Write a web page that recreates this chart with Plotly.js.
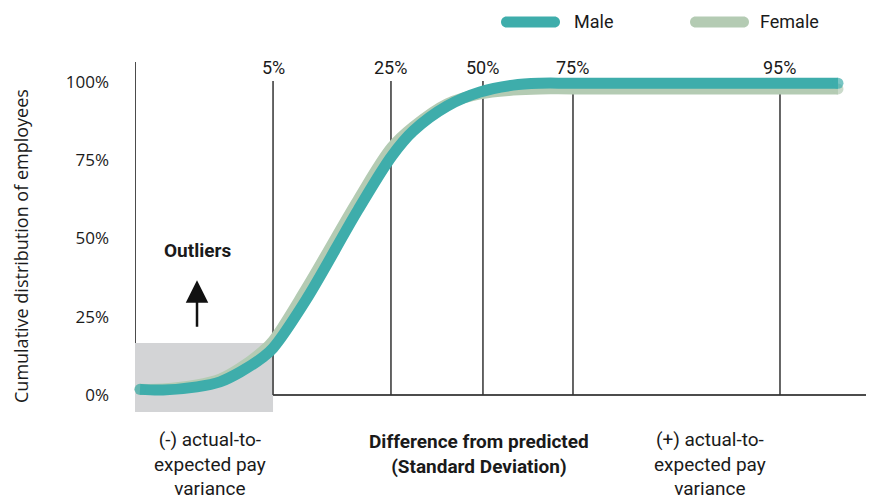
<!DOCTYPE html>
<html><head><meta charset="utf-8">
<script src="https://cdn.plot.ly/plotly-3.0.1.min.js"></script>
<style>html,body{margin:0;padding:0;background:#fff}</style>
</head><body><div id="chart" style="width:873px;height:499px"></div>
<script>
// Difference from predicted (standard deviations)
const xSD     = [-2.959, -2.770, -2.491, -2.302, -2.138, -1.949, -1.867, -1.596, -1.170, -0.891, -0.718, -0.439, -0.168, 0.103, 0.324, 0.595, 2.294, 2.770];
// Cumulative distribution of employees (%)
const maleY   = [1.8, 1.6, 2.6, 4.2, 7.3, 12.1, 15.0, 30.4, 59.1, 76.4, 84.3, 92.3, 96.8, 99.0, 99.6, 99.6, 99.6, 99.6];
const femaleY = [1.8, 1.9, 3.2, 5.1, 8.6, 14.1, 17.3, 33.9, 62.3, 79.2, 85.6, 93.0, 96.2, 97.4, 97.8, 97.8, 97.8, 97.8];
const seriesNames = ['Male', 'Female'];
const pctLabels = ['5%', '25%', '50%', '75%', '95%'];
const pctX = [-1.867, -0.899, -0.144, 0.595, 2.294];
const yTickVals = [0, 25, 50, 75, 100];
const yTickText = ['0%', '25%', '50%', '75%', '100%'];
const outlierX = [-3, -1.867];
const outlierY = [-5.43, 16.6];
const xRange = [-3, 3];
const yRange = [-5.43, 106.39];

const MALE_C = '#3eadab', FEMALE_C = '#b4cbb3';
const TXT = '#1a1a1a';
const FONT_A = 'Roboto, "Fira Sans", sans-serif';
const FONT_B = '"Open Sans", "Noto Sans", sans-serif';

function capSizes(n, s) { return Array.from({length: n}, (_, i) => (i === 0 || i === n - 1) ? s : 0); }

const traces = [
  {x: xSD, y: femaleY, name: seriesNames[1], mode: 'lines+markers', line: {color: FEMALE_C, width: 11, shape: 'spline', smoothing: 1},
   marker: {color: FEMALE_C, size: capSizes(xSD.length, 11), line: {width: 0}}, hoverinfo: 'skip', showlegend: false, cliponaxis: false},
  {x: xSD, y: maleY, name: seriesNames[0], mode: 'lines+markers', line: {color: MALE_C, width: 11, shape: 'spline', smoothing: 1},
   marker: {color: MALE_C, size: capSizes(xSD.length, 11), line: {width: 0}}, hoverinfo: 'skip', showlegend: false, cliponaxis: false}
];

// plot-area pixel helpers (for legend / label placement)
const L = 135, R = 866, T = 62, B = 412;
const px = v => (v - L) / (R - L);
const py = v => (B - v) / (B - T);
function pill(x0, x1, cy, r) {
  const k = 0.5523 * r;
  const P = (a, b) => px(a).toFixed(5) + ',' + py(b).toFixed(5);
  return 'M' + P(x0 + r, cy - r) + ' L' + P(x1 - r, cy - r) +
    ' C' + P(x1 - r + k, cy - r) + ' ' + P(x1, cy - k) + ' ' + P(x1, cy) +
    ' C' + P(x1, cy + k) + ' ' + P(x1 - r + k, cy + r) + ' ' + P(x1 - r, cy + r) +
    ' L' + P(x0 + r, cy + r) +
    ' C' + P(x0 + r - k, cy + r) + ' ' + P(x0, cy + k) + ' ' + P(x0, cy) +
    ' C' + P(x0, cy - k) + ' ' + P(x0 + r - k, cy - r) + ' ' + P(x0 + r, cy - r) + ' Z';
}

const shapes = [
  {type: 'rect', xref: 'x', yref: 'y', x0: outlierX[0], x1: outlierX[1], y0: outlierY[0], y1: outlierY[1],
   fillcolor: '#d3d4d6', line: {width: 0}, layer: 'below'},
  {type: 'line', xref: 'paper', yref: 'y', x0: 0, x1: 1, y0: 0, y1: 0, line: {color: '#111', width: 1.5}, layer: 'below'},
  {type: 'line', xref: 'x', yref: 'paper', x0: xRange[0], x1: xRange[0], y0: py(395), y1: 1, line: {color: '#111', width: 1.5}, layer: 'below'}
];
pctX.forEach(v => shapes.push({type: 'line', xref: 'x', yref: 'y', x0: v, x1: v, y0: 0, y1: 100.3,
  line: {color: '#333', width: 1.5}, layer: 'below'}));
// legend swatches
shapes.push({type: 'path', xref: 'paper', yref: 'paper', path: pill(501, 560, 22, 5.5), fillcolor: MALE_C, line: {width: 0}});
shapes.push({type: 'path', xref: 'paper', yref: 'paper', path: pill(690, 749, 22, 5.5), fillcolor: FEMALE_C, line: {width: 0}});

const C = {xanchor: 'center', yanchor: 'middle', showarrow: false};
const annotations = [];
pctX.forEach((v, i) => annotations.push(Object.assign({x: v, y: 104.6, xref: 'x', yref: 'y', text: pctLabels[i],
  font: {family: FONT_A, size: 18, color: TXT}}, C)));
annotations.push({x: px(572), y: py(22), xref: 'paper', yref: 'paper', text: seriesNames[0], showarrow: false,
  xanchor: 'left', yanchor: 'middle', font: {family: FONT_A, size: 18, color: TXT}});
annotations.push({x: px(758), y: py(22), xref: 'paper', yref: 'paper', text: seriesNames[1], showarrow: false,
  xanchor: 'left', yanchor: 'middle', font: {family: FONT_A, size: 18, color: TXT}});
// outliers
annotations.push(Object.assign({x: -2.491, y: 46.3, xref: 'x', yref: 'y', text: '<b>Outliers</b>',
  font: {family: FONT_A, size: 19, color: TXT}}, C));
annotations.push({x: -2.491, y: 36.7, xref: 'x', yref: 'y', ax: 0, ay: 48, text: '', showarrow: true,
  arrowhead: 2, arrowsize: 1.8, arrowwidth: 2.5, arrowcolor: '#111', standoff: 0});
// bottom labels
annotations.push(Object.assign({x: px(210), y: py(464), xref: 'paper', yref: 'paper', text: '(-) actual-to-<br>expected pay<br>variance',
  align: 'center', font: {family: FONT_A, size: 19, color: TXT}}, C));
annotations.push(Object.assign({x: px(479), y: py(454), xref: 'paper', yref: 'paper', text: '<b>Difference from predicted<br>(Standard Deviation)</b>',
  align: 'center', font: {family: FONT_A, size: 19, color: TXT}}, C));
annotations.push(Object.assign({x: px(710), y: py(464), xref: 'paper', yref: 'paper', text: '(+) actual-to-<br>expected pay<br>variance',
  align: 'center', font: {family: FONT_A, size: 19, color: TXT}}, C));
// y axis title
annotations.push(Object.assign({x: px(21), y: py(246), xref: 'paper', yref: 'paper', text: 'Cumulative distribution of employees',
  textangle: -90, font: {family: FONT_B, size: 18, color: TXT}}, C));

const layout = {
  width: 873, height: 499,
  margin: {l: L, r: 873 - R, t: T, b: 499 - B, pad: 0},
  paper_bgcolor: '#fff', plot_bgcolor: '#fff',
  showlegend: false,
  xaxis: {range: xRange, showgrid: false, zeroline: false, showline: false, showticklabels: false, ticks: '', fixedrange: true},
  yaxis: {range: yRange, showgrid: false, zeroline: false, showline: false, tickvals: yTickVals, ticktext: yTickText,
          ticks: '', ticklabelstandoff: 25, tickfont: {family: FONT_B, size: 17, color: TXT}, fixedrange: true},
  shapes: shapes,
  annotations: annotations
};

Plotly.newPlot('chart', traces, layout, {displayModeBar: false, staticPlot: true});
</script></body></html>
